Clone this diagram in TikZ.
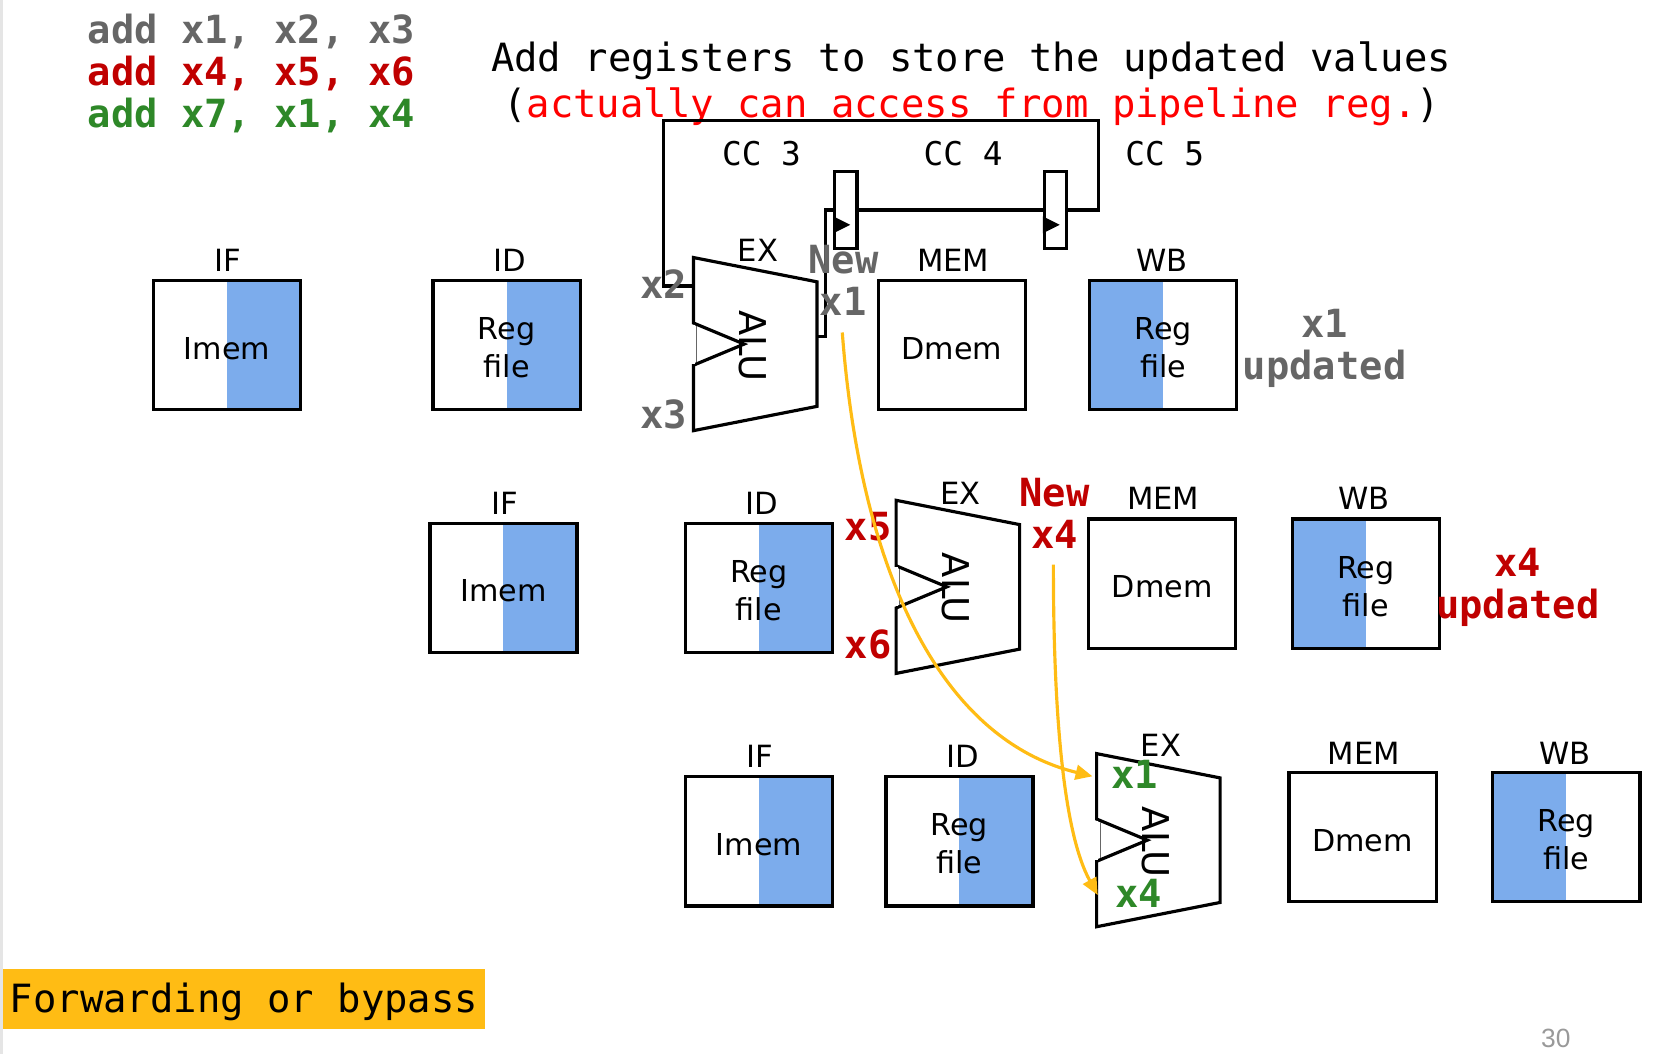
\documentclass[tikz,border=0pt]{standalone}
\usepackage{fontspec}
\setmainfont{DejaVu Sans}
\setmonofont{DejaVu Sans Mono}
\newfontfamily\pagefont{Liberation Sans}
\usetikzlibrary{arrows.meta, positioning, calc}
\definecolor{regblue}{RGB}{124, 172, 236}
\definecolor{fwdyellow}{RGB}{255, 188, 20}
\definecolor{codegray}{RGB}{102, 102, 102}
\definecolor{codered}{RGB}{192, 0, 0}
\definecolor{codegreen}{RGB}{46, 136, 40}
\tikzset{
    wire/.style={line width=3pt, line join=miter},
    stagebox/.style={draw, line width=3.2pt, minimum width=139.5pt, minimum height=122.5pt, inner sep=0pt, align=center, text height=27pt, font=\fontsize{28.6}{36}\selectfont},
    readhalf/.style={stagebox, path picture={\fill[regblue] (path picture bounding box.south) rectangle (path picture bounding box.north east);}},
    writehalf/.style={stagebox, path picture={\fill[regblue] (path picture bounding box.south west) rectangle (path picture bounding box.north);}},
    regtext/.style={text height=62pt},
    stagelabel/.style={font=\fontsize{29}{29}\selectfont, inner sep=0pt, anchor=base, xshift=1pt},
    pipereg/.style={draw, fill=white, line width=3pt, minimum width=21pt, minimum height=73pt, inner sep=0pt},
    codetext/.style={font=\ttfamily\bfseries\fontsize{36.75}{36.75}\selectfont, inner sep=0pt, anchor=base},
    monotext/.style={font=\ttfamily\fontsize{36.85}{36.85}\selectfont, inner sep=0pt, anchor=base},
    cctext/.style={font=\ttfamily\fontsize{31}{31}\selectfont, inner sep=0pt, anchor=base},
    forward/.style={fwdyellow, line width=3pt, -{Triangle[length=16pt,width=14pt]}},
    alu/.pic={
        \draw[wire] (0,0) -- (117,23) -- (117,141) -- (0,164) -- (0,102) -- (48,82) -- (0,62) -- cycle;
        \draw[white, line width=3.4pt] (0,63.5) -- (0,100.5);
        \draw[black!60, line width=0.6pt] (3,65) -- (3,99);
        \node[font=\fontsize{35}{35}\selectfont, rotate=-90, inner sep=0pt] (-name) at (56,83.5) {ALU};
        \coordinate (-in) at (0,27);
        \coordinate (-out) at (117,75);
    }
}

\begin{document}
\begin{tikzpicture}[x=1pt, y=-1pt]
    \useasboundingbox (0,0) rectangle (1568,999);

    % Slide edge
    \fill[black!10] (0,0) rectangle (3,999);

    % Instruction list
    \node[codetext, text=codegray, anchor=base west] (line1) at (83,41.5) {add x1, x2, x3};
    \node[codetext, text=codered, anchor=base west] (line2) at (83,81) {add x4, x5, x6};
    \node[codetext, text=codegreen, anchor=base west] (line3) at (83,121) {add x7, x1, x4};

    % Note
    \node[monotext] (note1) at (920,68) {Add registers to store the updated values};
    \node[monotext] (note2) at (920.5,111) {(\textcolor{red}{actually can access from pipeline reg.})};

    % Clock cycles
    \node[cctext] (cc3) at (721.5,157) {CC 3};
    \node[cctext] (cc4) at (912.5,157) {CC 4};
    \node[cctext] (cc5) at (1103.5,157) {CC 5};

    % First instruction
    \node[readhalf] (imem1) at (215,327) {Imem};
    \node[readhalf, regtext] (rf1) at (480,327) {Reg\\file};
    \pic (alu1) at (657,244) {alu};
    \node[stagebox] (dmem1) at (902,327) {Dmem};
    \node[writehalf, regtext] (wb1) at (1102,327) {Reg\\file};
    \node[stagelabel] (if1) at (215,257) {IF};
    \node[stagelabel] (id1) at (482,257) {ID};
    \node[stagelabel] (ex1) at (717,248) {EX};
    \node[stagelabel] (mem1) at (902,257) {MEM};
    \node[stagelabel] (lwb1) at (1100,257) {WB};

    % Second instruction
    \node[readhalf] (imem2) at (477,557) {Imem};
    \node[readhalf, regtext] (rf2) at (719,557) {Reg\\file};
    \pic (alu2) at (849,474) {alu};
    \node[stagebox] (dmem2) at (1101,553) {Dmem};
    \node[writehalf, regtext] (wb2) at (1294,553) {Reg\\file};
    \node[stagelabel] (if2) at (477,487) {IF};
    \node[stagelabel] (id2) at (721,487) {ID};
    \node[stagelabel] (ex2) at (909,478) {EX};
    \node[stagelabel] (mem2) at (1101,483) {MEM};
    \node[stagelabel] (lwb2) at (1291,483) {WB};

    % Third instruction
    \node[readhalf] (imem3) at (719,797) {Imem};
    \node[readhalf, regtext] (rf3) at (909,797) {Reg\\file};
    \pic (alu3) at (1039,714) {alu};
    \node[stagebox] (dmem3) at (1291,793) {Dmem};
    \node[writehalf, regtext] (wb3) at (1484,793) {Reg\\file};
    \node[stagelabel] (if3) at (719,727) {IF};
    \node[stagelabel] (id3) at (911,727) {ID};
    \node[stagelabel] (ex3) at (1099,717) {EX};
    \node[stagelabel] (mem3) at (1291,724) {MEM};
    \node[stagelabel] (lwb3) at (1482,724) {WB};

    % Pipeline registers
    \node[pipereg] (reg1) at (801.5,199) {};
    \node[pipereg] (reg2) at (1000,199) {};
    \fill (reg1.west |- 0,205) -- ++(16,8) -- ++(-16,8) -- cycle;
    \fill (reg2.west |- 0,205) -- ++(16,8) -- ++(-16,8) -- cycle;

    % Wires through the registers
    \draw[wire] (alu1-out) -- ++(8,0) |- (reg1.west);
    \draw[wire] (reg1.east) -- (reg2.west);
    \draw[wire] (reg2.east) -- ++(29,0) |- (629,114) |- (alu1-in);

    % Register labels
    \node[codetext, text=codegray] (x2) at (628.5,283) {x2};
    \node[codetext, text=codegray] (x3) at (628.5,406) {x3};
    \node[codetext, text=codegray] (new1) at (799,259) {New};
    \node[codetext, text=codegray] (newx1) at (799,299) {x1};
    \node[codetext, text=codegray] (upd1a) at (1255,320) {x1};
    \node[codetext, text=codegray] (upd1b) at (1255,360) {updated};
    \node[codetext, text=codered] (x5) at (822.5,512) {x5};
    \node[codetext, text=codered] (x6) at (822.5,624) {x6};
    \node[codetext, text=codered] (new2) at (999,480) {New};
    \node[codetext, text=codered] (newx4) at (999,520) {x4};
    \node[codetext, text=codered] (upd2a) at (1438,546) {x4};
    \node[codetext, text=codered] (upd2b) at (1438,586) {updated};
    \node[codetext, text=codegreen] (x1in) at (1075,747) {x1};
    \node[codetext, text=codegreen] (x4in) at (1079,860) {x4};

    % Forwarding paths
    \coordinate (from1) at (798,315);
    \coordinate (to1) at (1035,735.5);
    \coordinate (from2) at (998,535);
    \coordinate (to2) at (1040,848);
    \draw[forward] (from1) .. controls (815,540) and (890,700) .. (to1);
    \draw[forward] (from2) .. controls (998,680) and (1008,790) .. (to2);

    % Footer
    \node[monotext, fill=fwdyellow, minimum width=456pt, minimum height=57pt, text height=34pt, anchor=west] (bypass) at (3,946.5) {Forwarding or bypass};
    \node[font=\pagefont\fontsize{25}{25}\selectfont, text=black!40, inner sep=0pt, anchor=base] (pagenum) at (1474,992) {30};
\end{tikzpicture}
\end{document}
